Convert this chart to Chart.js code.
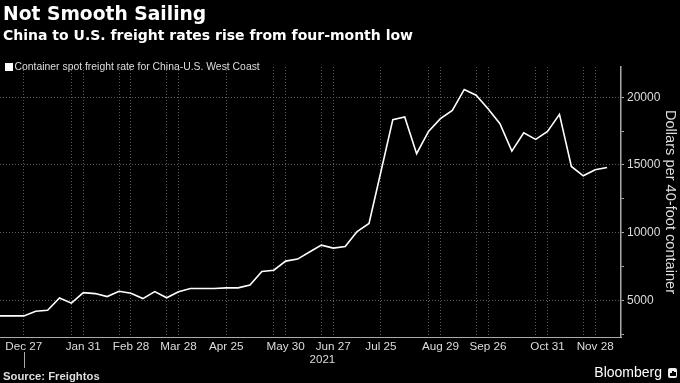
<!DOCTYPE html>
<html><head><meta charset="utf-8">
<script src="https://cdn.jsdelivr.net/npm/chart.js@4.4.1/dist/chart.umd.min.js"></script>
<style>
html,body{margin:0;padding:0;background:#000;}
#wrap{position:relative;width:680px;height:383px;overflow:hidden;background:#000;}
#c{position:absolute;left:0;top:0;}
.t{position:absolute;white-space:nowrap;margin:0;}
#title{left:3px;top:3.6px;font:bold 18.7px/20px "DejaVu Sans";color:#fff;}
#subtitle{left:3px;top:26.6px;font:bold 14px/16px "DejaVu Sans";color:#fff;}
#legend{left:5px;top:60.5px;font:10.4px/12px "Liberation Sans";color:#ddd;}
#legend .box{position:absolute;left:0;top:2px;width:8px;height:8px;background:#fff;}
#legend .txt{padding-left:9.5px;}
#source{left:3px;top:369.5px;font:bold 11.3px/13px "Liberation Sans";color:#ddd;}
#brand{right:18px;top:364.1px;font:14px/16px "Liberation Sans";color:#fff;}
#icon{position:absolute;left:668px;top:368px;width:9px;height:10px;background:#eee;border-radius:2px;}
#icon span{position:absolute;bottom:2px;width:1.5px;background:#000;}
</style>
</head>
<body>
<div id="wrap">
  <canvas id="c" width="680" height="383"></canvas>
  <div class="t" id="title">Not Smooth Sailing</div>
  <div class="t" id="subtitle">China to U.S. freight rates rise from four-month low</div>
  <div class="t" id="legend"></div>
  <div class="t" id="source">Source: Freightos</div>
  <div class="t" id="brand">Bloomberg</div>
  <div id="icon"><span style="left:2px;height:3px"></span><span style="left:4px;height:5px"></span><span style="left:6px;height:4px"></span></div>
</div>
<script>
// ---- data ----
const weeks = ['Dec 13','Dec 20','Dec 27','Jan 3','Jan 10','Jan 17','Jan 24','Jan 31',
  'Feb 7','Feb 14','Feb 21','Feb 28','Mar 7','Mar 14','Mar 21','Mar 28',
  'Apr 4','Apr 11','Apr 18','Apr 25','May 2','May 9','May 16','May 23','May 30',
  'Jun 6','Jun 13','Jun 20','Jun 27','Jul 4','Jul 11','Jul 18','Jul 25',
  'Aug 1','Aug 8','Aug 15','Aug 22','Aug 29','Sep 5','Sep 12','Sep 19','Sep 26',
  'Oct 3','Oct 10','Oct 17','Oct 24','Oct 31','Nov 7','Nov 14','Nov 21','Nov 28','Dec 5'];
const rates = [3840,3840,3840,4190,4260,5170,4780,5560,
  5490,5270,5660,5520,5120,5640,5180,5620,
  5860,5860,5860,5910,5910,6130,7120,7220,7890,
  8040,8560,9070,8850,8970,10080,10670,14500,
  18350,18540,15830,17480,18420,19030,20580,20150,19160,
  18050,16020,17380,16890,17480,18740,14890,14200,14640,14810];
const labelWeeks = ['Dec 27','Jan 31','Feb 28','Mar 28','Apr 25','May 30','Jun 27',
  'Jul 25','Aug 29','Sep 26','Oct 31','Nov 28'];
const gridWeeks = ['Dec 27','Jan 24','Jan 31','Feb 21','Feb 28','Mar 21','Mar 28','Apr 25',
  'May 23','May 30','Jun 20','Jun 27','Jul 25','Aug 22','Aug 29','Sep 19','Sep 26',
  'Oct 24','Oct 31','Nov 21','Nov 28'];
const yTicks = [2500,5000,7500,10000,12500,15000,17500,20000];
const yLabelTicks = [5000,10000,15000,20000];
const seriesName = 'Container spot freight rate for China-U.S. West Coast';
const yAxisTitle = 'Dollars per 40-foot container';
const yearLabel = '2021';
const yearStartWeek = 'Dec 27';

// ---- chart ----
const yearPlugin = {
  id: 'yearLabel',
  afterDraw(chart) {
    const xs = chart.scales.x, ctx = chart.ctx, area = chart.chartArea;
    const start = xs.getPixelForValue(weeks.indexOf(yearStartWeek));
    const end = area.right;
    ctx.save();
    ctx.strokeStyle = '#aaa'; ctx.lineWidth = 1;
    ctx.beginPath();
    ctx.moveTo(Math.round(start) + 0.5, area.bottom + 15);
    ctx.lineTo(Math.round(start) + 0.5, area.bottom + 31);
    ctx.stroke();
    ctx.fillStyle = '#ddd';
    ctx.font = '11.5px "Liberation Sans"';
    ctx.textAlign = 'center';
    ctx.textBaseline = 'middle';
    ctx.fillText(yearLabel, (start + end) / 2, area.bottom + 23);
    ctx.restore();
  }
};

const chart = new Chart(document.getElementById('c'), {
  type: 'line',
  data: {
    datasets: [{
      label: seriesName,
      data: weeks.map((w, i) => ({x: i, y: rates[i]})),
      borderColor: '#ffffff',
      borderWidth: 1.6,
      pointRadius: 0,
      tension: 0,
      fill: false
    }]
  },
  options: {
    responsive: false,
    animation: false,
    devicePixelRatio: 1,
    layout: {padding: {top: 67, left: 0, right: 0, bottom: 0}},
    plugins: {legend: {display: false}, tooltip: {enabled: false}},
    scales: {
      x: {
        type: 'linear',
        min: 0,
        max: weeks.length + 0.17,
        afterBuildTicks: s => { s.ticks = gridWeeks.map(d => ({value: weeks.indexOf(d)})); },
        afterFit: s => { s.height = 46; },
        ticks: {
          autoSkip: false, maxRotation: 0, minRotation: 0, padding: 3,
          color: '#ddd', font: {family: 'Liberation Sans', size: 11.7},
          callback: v => labelWeeks.includes(weeks[v]) ? weeks[v] : ''
        },
        grid: {color: '#5a5a5a', drawTicks: false, lineWidth: 1},
        border: {color: '#aaa', width: 1, dash: [1, 2]}
      },
      y: {
        type: 'linear',
        position: 'right',
        min: 2280,
        max: 22240,
        afterBuildTicks: s => { s.ticks = yTicks.map(v => ({value: v})); },
        afterFit: s => { s.width = 59; },
        ticks: {
          padding: 3, color: '#ddd', font: {family: 'Liberation Sans', size: 12},
          callback: v => yLabelTicks.includes(v) ? String(v) : ''
        },
        grid: {
          color: c => (c.tick && yLabelTicks.includes(c.tick.value)) ? '#5a5a5a' : 'rgba(0,0,0,0)',
          tickColor: '#aaa', tickLength: 3, lineWidth: 1
        },
        border: {color: '#aaa', width: 1.5, dash: [1, 2]},
        title: {
          display: true, text: yAxisTitle, color: '#ddd',
          font: {family: 'Liberation Sans', size: 14.6},
          padding: {top: 1.2, bottom: 0}
        }
      }
    }
  },
  plugins: [yearPlugin]
});

// HTML legend built from the chart's dataset
const lg = document.getElementById('legend');
chart.data.datasets.forEach(ds => {
  const box = document.createElement('span'); box.className = 'box';
  box.style.background = ds.borderColor;
  const txt = document.createElement('span'); txt.className = 'txt'; txt.textContent = ds.label;
  lg.appendChild(box); lg.appendChild(txt);
});
</script>
</body></html>
